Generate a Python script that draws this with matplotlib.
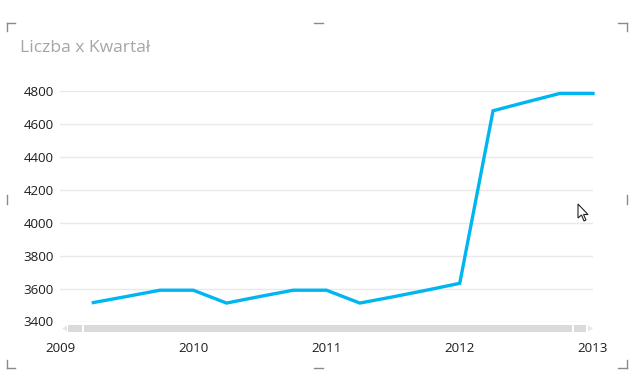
import matplotlib
matplotlib.use("Agg")
import matplotlib.pyplot as plt
from matplotlib.lines import Line2D
from matplotlib.patches import Rectangle, Polygon

# dane: liczba na koniec kazdego kwartalu 2009-2012
quarters = [2009.25, 2009.5, 2009.75, 2010.0,
            2010.25, 2010.5, 2010.75, 2011.0,
            2011.25, 2011.5, 2011.75, 2012.0,
            2012.25, 2012.5, 2012.75, 2013.0]
counts = [3515, 3552, 3590, 3590,
          3512, 3552, 3590, 3590,
          3512, 3550, 3590, 3632,
          4680, 4733, 4785, 4785]
year_ticks = [2009, 2010, 2011, 2012, 2013]
y_ticks = [3400, 3600, 3800, 4000, 4200, 4400, 4600, 4800]

W, H = 636, 376
plt.rcParams['font.family'] = ['Open Sans', 'DejaVu Sans']

fig = plt.figure(figsize=(W / 100, H / 100), dpi=100)
fig.patch.set_facecolor("white")


def fx(x):
    return x / W


def fy(y):
    return 1 - y / H


ax = fig.add_axes([fx(60), fy(321.5), fx(593) - fx(60), fy(91) - fy(321.5)])
ax.plot(quarters, counts, color="#00B6F0", lw=2.4, solid_joinstyle="miter", clip_on=False, zorder=3)
ax.set_xlim(2009, 2013)
ax.set_ylim(3400, 4800)
ax.set_xticks(year_ticks)
ax.set_xticklabels([str(y) for y in year_ticks])
ax.set_yticks(y_ticks)
ax.grid(axis="y", color="#E9E9E9", lw=1)
ax.grid(axis="x", visible=False)
for s in ax.spines.values():
    s.set_visible(False)
ax.tick_params(axis="both", length=0, labelsize=9.6, labelcolor="#1E1E1E")
ax.tick_params(axis="y", pad=4.5)
ax.tick_params(axis="x", pad=15)

fig.text(fx(20), fy(48), "Liczba x Kwartał", fontsize=12.6, color="#A6A6A6", va="center", ha="left")

# pasek przewijania
gray = "#DADADA"
fig.add_artist(Rectangle((fx(68), fy(332)), fx(82) - fx(68), fy(325) - fy(332), transform=fig.transFigure, color=gray, lw=0))
fig.add_artist(Rectangle((fx(84), fy(332)), fx(572) - fx(84), fy(325) - fy(332), transform=fig.transFigure, color=gray, lw=0))
fig.add_artist(Rectangle((fx(574), fy(332)), fx(586) - fx(574), fy(325) - fy(332), transform=fig.transFigure, color=gray, lw=0))
fig.add_artist(Polygon([(fx(62), fy(328.5)), (fx(67), fy(325.5)), (fx(67), fy(331.5))], transform=fig.transFigure, color="#E6E6E6", lw=0))
fig.add_artist(Polygon([(fx(593), fy(328.5)), (fx(588), fy(325.5)), (fx(588), fy(331.5))], transform=fig.transFigure, color="#E6E6E6", lw=0))

# narozniki ramki
mark = "#8A8A8A"


def seg(x0, y0, x1, y1):
    fig.add_artist(Line2D([fx(x0), fx(x1)], [fy(y0), fy(y1)], transform=fig.transFigure, color=mark, lw=1))


seg(6.5, 23, 15, 23); seg(6.5, 23, 6.5, 31)
seg(626.5, 23, 618, 23); seg(626.5, 23, 626.5, 31)
seg(6.5, 368, 15, 368); seg(6.5, 368, 6.5, 360)
seg(626.5, 368, 618, 368); seg(626.5, 368, 626.5, 360)
seg(314, 23, 323, 23); seg(314, 368, 323, 368)
seg(6.5, 195, 6.5, 204); seg(626.5, 195, 626.5, 204)

# kursor myszy
cur = [(0, 0), (0, 14), (3.5, 11), (6, 17), (8, 16), (5.5, 10.5), (10, 10.5)]
fig.add_artist(Polygon([(fx(578 + a), fy(204 + b)) for a, b in cur], closed=True, transform=fig.transFigure,
                       facecolor="white", edgecolor="#222222", lw=0.8))

fig.savefig("out.png", dpi=100)
